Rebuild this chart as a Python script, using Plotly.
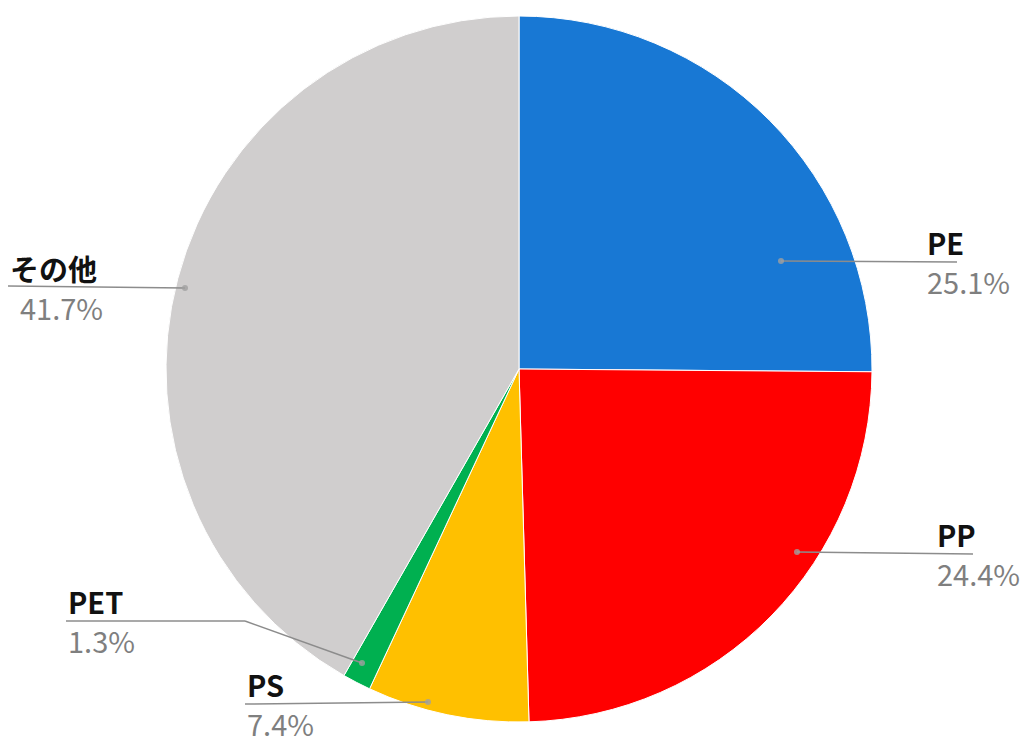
import plotly.graph_objects as go

# ---- data ----
labels = ["PE", "PP", "PS", "PET", "その他"]
values = [25.1, 24.4, 7.4, 1.3, 41.7]
pct_text = ["25.1%", "24.4%", "7.4%", "1.3%", "41.7%"]
colors = ["#1878d4", "#ff0000", "#ffc000", "#00b050", "#d0cece"]

W, H = 1025, 736

def px(x):
    return x / W

def py(y):
    return 1 - y / H

# label layout (pixel positions): text left x, line y, leader line path, dot
label_layout = {
    "PE":   dict(tx=925, ly=262, path=[(957, 262), (781, 261)], dot=(781, 261)),
    "PP":   dict(tx=935, ly=554, path=[(973, 554), (797, 552)], dot=(797, 552)),
    "PS":   dict(tx=245, ly=704, path=[(245, 704), (428, 702)], dot=(428, 702)),
    "PET":  dict(tx=66,  ly=621, path=[(66, 621), (245, 621), (362, 663)], dot=(362, 663)),
    "その他": dict(tx=8, ly=288, path=[(8, 286), (185, 288)], dot=(185, 288)),
}
pct_offset = {"その他": 10}

fig = go.Figure(go.Pie(
    labels=labels,
    values=values,
    marker=dict(colors=colors, line=dict(color="white", width=1)),
    sort=False,
    direction="clockwise",
    rotation=0,
    textinfo="none",
    hoverinfo="label+percent",
    showlegend=False,
    domain=dict(x=[px(166), px(872)], y=[py(722), py(16)]),
))

shapes = []
annotations = []
for lab, pct in zip(labels, pct_text):
    L = label_layout[lab]
    pts = L["path"]
    for (x0, y0), (x1, y1) in zip(pts[:-1], pts[1:]):
        shapes.append(dict(type="line", xref="paper", yref="paper",
                           x0=px(x0), y0=py(y0), x1=px(x1), y1=py(y1),
                           line=dict(color="#8c8c8c", width=1.5)))
    dx, dy = L["dot"]
    r = 3
    shapes.append(dict(type="circle", xref="paper", yref="paper",
                       x0=px(dx - r), x1=px(dx + r), y0=py(dy + r), y1=py(dy - r),
                       fillcolor="#a0a0a0", line=dict(width=0), opacity=0.8))
    annotations.append(dict(xref="paper", yref="paper", x=px(L["tx"]), y=py(L["ly"] + 3),
                            xanchor="left", yanchor="bottom", showarrow=False,
                            text=lab,
                            font=dict(family="Noto Sans CJK JP", size=29, color="#111111", weight=700)))
    annotations.append(dict(xref="paper", yref="paper",
                            x=px(L["tx"] + pct_offset.get(lab, 0)), y=py(L["ly"] - 4),
                            xanchor="left", yanchor="top", showarrow=False,
                            text=pct,
                            font=dict(family="Noto Sans CJK JP", size=29, color="#7f7f7f")))

fig.update_layout(
    width=W, height=H,
    margin=dict(l=0, r=0, t=0, b=0),
    paper_bgcolor="white",
    plot_bgcolor="white",
    shapes=shapes,
    annotations=annotations,
)

fig.write_html("out.html")
